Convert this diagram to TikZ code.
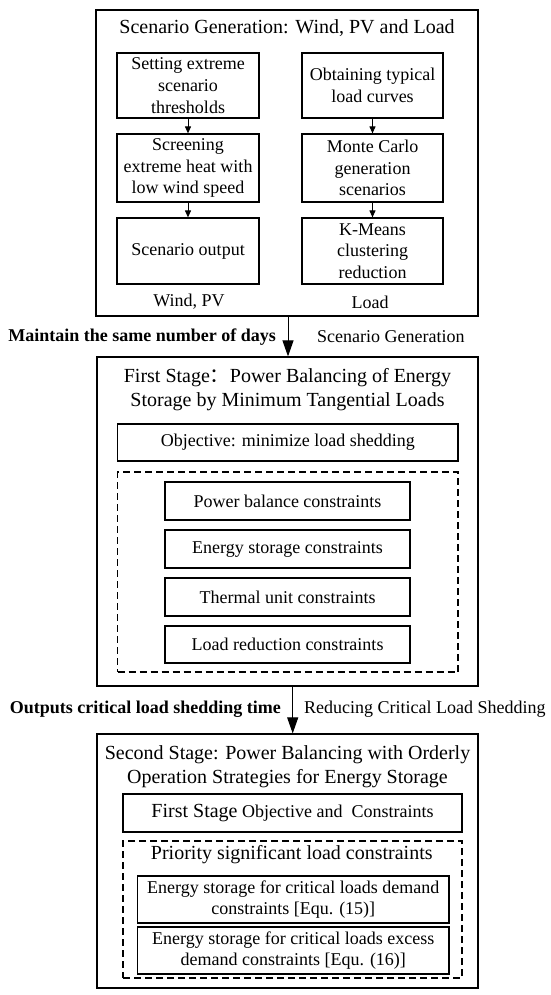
\documentclass[tikz,border=0pt]{standalone}
\usepackage{fontspec}
\setmainfont{Liberation Serif}
\newfontfamily\cjk{Noto Sans CJK SC}
\usetikzlibrary{arrows.meta}
\begin{document}
\begin{tikzpicture}[x=1pt,y=-1pt,
  box/.style={draw, line width=1.2pt, inner sep=0pt, align=center, font=\fontsize{18}{21.7}\selectfont},
  dbox/.style={draw, dash pattern=on 7pt off 4pt, line width=1.2pt, inner sep=0pt},
  body/.style={inner sep=0pt, align=center, font=\fontsize{18}{21.7}\selectfont},
  bodyb/.style={inner sep=0pt, align=center, font=\fontsize{18}{21.7}\selectfont\bfseries},
  ttl/.style={inner sep=0pt, align=center, font=\fontsize{20}{24}\selectfont},
  bigarrow/.style={-{Triangle[length=16pt,width=11pt]}, line width=1pt},
  smallarrow/.style={-{Triangle[length=7pt,width=6pt]}, line width=1pt},
]
\useasboundingbox (0,0) rectangle (550,995);

% ---------- Scenario generation block ----------
\node[box, minimum width=382pt, minimum height=306pt] (top) at (287,163) {};
\node[ttl] (toptitle) at (287,28) {Scenario Generation: Wind, PV and Load};

\node[box, minimum width=142pt, minimum height=65pt] (L1) at (188,85.5) {Setting extreme\\scenario\\thresholds};
\node[box, minimum width=142pt, minimum height=68pt] (L2) at (188,168) {Screening\\extreme heat with\\low wind speed};
\node[box, minimum width=142pt, minimum height=66pt] (L3) at (188,251) {Scenario output};

\node[box, minimum width=141pt, minimum height=65pt] (R1) at (372.5,85.5) {Obtaining typical\\load curves};
\node[box, minimum width=141pt, minimum height=68pt] (R2) at (372.5,168) {Monte Carlo\\generation\\scenarios};
\node[box, minimum width=141pt, minimum height=66pt] (R3) at (372.5,251) {K-Means\\clustering\\reduction};

\node[body] (lwind) at (189,302) {Wind, PV};
\node[body] (lload) at (370,302) {Load};

\draw[smallarrow] (L1.south) -- (L2.north);
\draw[smallarrow] (L2.south) -- (L3.north);
\draw[smallarrow] (R1.south) -- (R2.north);
\draw[smallarrow] (R2.south) -- (R3.north);

% ---------- First stage block ----------
\node[box, minimum width=381pt, minimum height=329pt] (s1) at (287.5,521.5) {};
\node[ttl] (s1title) at (287.5,390) {First Stage{\cjk ：}Power Balancing of Energy\\Storage by Minimum Tangential Loads};
\node[box, minimum width=340.5pt, minimum height=37pt] (obj1) at (287.75,442.5) {Objective: minimize load shedding};
\node[dbox, minimum width=340.5pt, minimum height=200pt] (d1) at (287.75,572) {};
\node[box, minimum width=245pt, minimum height=38pt] (c1) at (287.5,501) {Power balance constraints};
\node[box, minimum width=245pt, minimum height=38pt] (c2) at (287.5,549) {Energy storage constraints};
\node[box, minimum width=245pt, minimum height=38pt] (c3) at (287.5,597) {Thermal unit constraints};
\node[box, minimum width=245pt, minimum height=37pt] (c4) at (287.5,644.5) {Load reduction constraints};

% ---------- arrow 1 ----------
\coordinate (a1) at (288,0);
\draw[bigarrow] (top.south -| a1) -- (s1.north -| a1);
\node[bodyb, anchor=east] (lab1) at (276,337) {Maintain the same number of days};
\node[body, anchor=west] (lab2) at (317,337) {Scenario Generation};

% ---------- Second stage block ----------
\node[box, minimum width=381pt, minimum height=254pt] (s2) at (287.5,861) {};
\node[ttl] (s2title) at (287.5,766.5) {Second Stage: Power Balancing with Orderly\\Operation Strategies for Energy Storage};
\node[box, minimum width=339pt, minimum height=38pt] (obj2) at (292.5,813) {{\fontsize{20}{24}\selectfont First Stage} Objective and\ \ Constraints};
\node[dbox, minimum width=339pt, minimum height=137pt] (d2) at (292.5,909.5) {};
\node[ttl] (prio) at (291.75,855) {Priority significant load constraints};
\node[box, minimum width=311.5pt, minimum height=47pt] (e1) at (293.25,899.5) {Energy storage for critical loads demand\\constraints [Equ. (15)]};
\node[box, minimum width=311.5pt, minimum height=47pt] (e2) at (293.25,950.5) {Energy storage for critical loads excess\\demand constraints [Equ. (16)]};

% ---------- arrow 2 ----------
\coordinate (a2) at (292.7,0);
\draw[bigarrow] (s1.south -| a2) -- (s2.north -| a2);
\node[bodyb, anchor=east] (lab3) at (281,709) {Outputs critical load shedding time};
\node[body, anchor=west] (lab4) at (304,709) {Reducing Critical Load Shedding};

\end{tikzpicture}
\end{document}
